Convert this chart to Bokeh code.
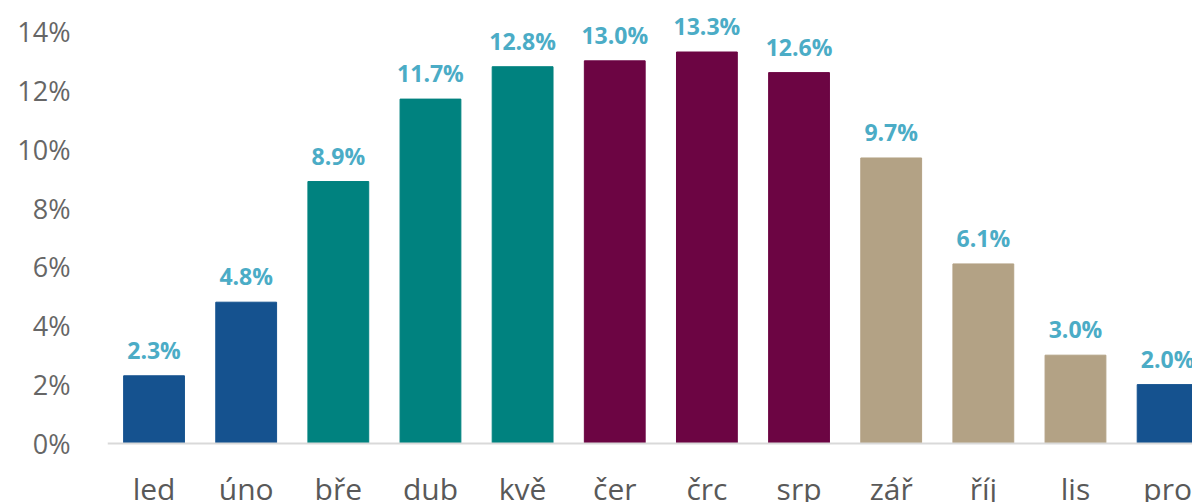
from bokeh.plotting import figure
from bokeh.models import Range1d, FixedTicker, PrintfTickFormatter, ColumnDataSource
from bokeh.embed import file_html
from bokeh.resources import INLINE
from bokeh.core.properties import value

months = ["led", "úno", "bře", "dub", "kvě", "čer", "črc", "srp", "zář", "říj", "lis", "pro"]
shares = [2.3, 4.8, 8.9, 11.7, 12.8, 13.0, 13.3, 12.6, 9.7, 6.1, 3.0, 2.0]
bar_colors = ["#15528F", "#15528F", "#00827F", "#00827F", "#00827F",
              "#6C0543", "#6C0543", "#6C0543",
              "#B3A285", "#B3A285", "#B3A285", "#15528F"]
y_ticks = [0, 2, 4, 6, 8, 10, 12, 14]

xs = list(range(len(months)))
src = ColumnDataSource(dict(x=xs, top=shares, color=bar_colors,
                            label=[f"{v:.1f}%" for v in shares]))

p = figure(width=1192, height=502, output_backend="svg", toolbar_location=None,
           x_range=Range1d(-0.505, 11.27), y_range=Range1d(-2.005, 15.05),
           min_border_left=107, min_border_right=0, min_border_top=0, min_border_bottom=0)
p.outline_line_color = None
p.background_fill_color = "white"
p.border_fill_color = "white"
p.grid.visible = False

p.vbar(x="x", top="top", width=0.66, bottom=0, color="color", source=src)
p.text(x="x", y="top", text="label", source=src, text_align="center",
       text_baseline="alphabetic", y_offset=-26, text_color="#4BACC6",
       text_font=value("Open Sans"), text_font_style="bold", text_font_size="23px")

xa = p.xaxis[0]
xa.fixed_location = 0
xa.ticker = FixedTicker(ticks=xs)
xa.major_label_overrides = {i: m for i, m in enumerate(months)}
xa.axis_line_color = "#D9D9D9"
xa.axis_line_width = 2
xa.major_tick_line_color = None
xa.minor_tick_line_color = None
xa.major_label_text_font = "Open Sans"
xa.major_label_text_font_size = "30px"
xa.major_label_text_color = "#595959"
xa.major_label_standoff = 19

ya = p.yaxis[0]
ya.ticker = FixedTicker(ticks=y_ticks)
ya.formatter = PrintfTickFormatter(format="%d%%")
ya.axis_line_color = None
ya.major_tick_line_color = None
ya.minor_tick_line_color = None
ya.major_label_text_font = "Open Sans"
ya.major_label_text_font_size = "27px"
ya.major_label_text_color = "#666666"
ya.major_label_standoff = 31

open("out.html", "w").write(file_html(p, INLINE))
